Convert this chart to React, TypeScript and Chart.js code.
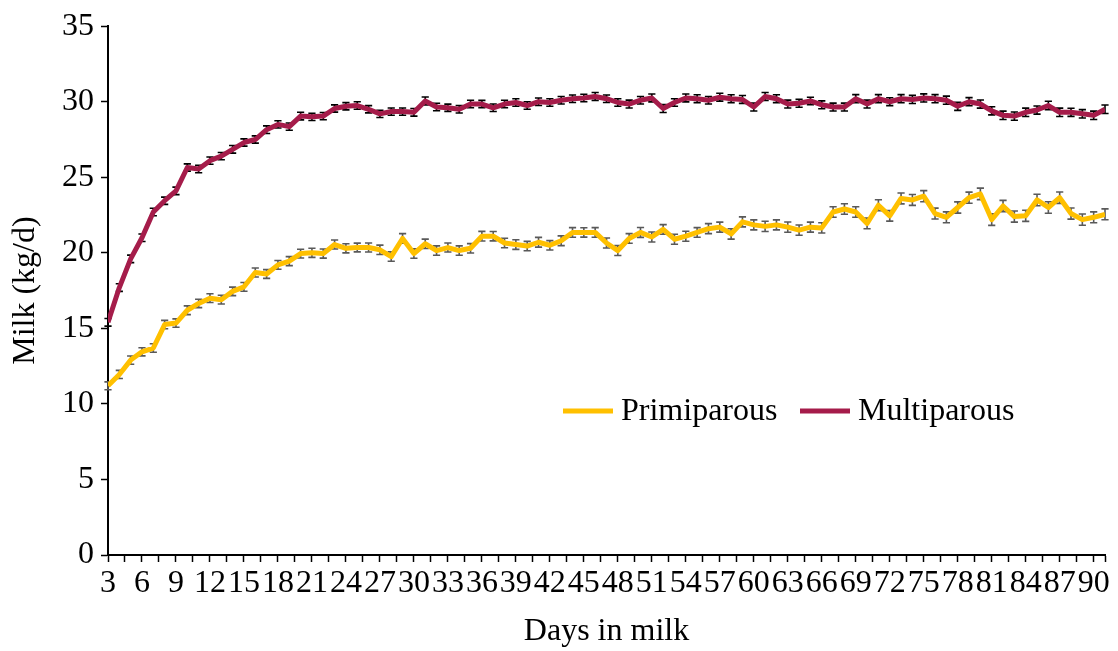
import React, { useEffect, useRef } from 'react';
import { Chart, registerables } from 'chart.js';

Chart.register(...registerables);

const days = [
  3, 4, 5, 6, 7, 8, 9, 10, 11, 12, 13, 14, 15, 16, 17, 18, 19, 20, 21, 22,
  23, 24, 25, 26, 27, 28, 29, 30, 31, 32, 33, 34, 35, 36, 37, 38, 39, 40, 41, 42,
  43, 44, 45, 46, 47, 48, 49, 50, 51, 52, 53, 54, 55, 56, 57, 58, 59, 60, 61, 62,
  63, 64, 65, 66, 67, 68, 69, 70, 71, 72, 73, 74, 75, 76, 77, 78, 79, 80, 81, 82,
  83, 84, 85, 86, 87, 88, 89, 90, 91,
];

const primiparous = [
  11.2, 11.95, 12.9, 13.45, 13.7, 15.25, 15.35, 16.2, 16.65, 17.0, 16.9, 17.45, 17.75, 18.7, 18.6, 19.2, 19.45, 19.95, 20.0, 19.95,
  20.55, 20.3, 20.35, 20.35, 20.2, 19.75, 20.95, 19.95, 20.6, 20.15, 20.35, 20.15, 20.3, 21.1, 21.1, 20.65, 20.55, 20.45, 20.7, 20.5,
  20.8, 21.35, 21.35, 21.35, 20.65, 20.15, 20.95, 21.35, 21.05, 21.55, 20.9, 21.1, 21.35, 21.6, 21.7, 21.25, 22.05, 21.85, 21.75, 21.85,
  21.7, 21.5, 21.7, 21.65, 22.7, 22.9, 22.7, 21.95, 23.15, 22.45, 23.6, 23.5, 23.75, 22.6, 22.35, 23.0, 23.65, 23.9, 22.2, 23.1,
  22.4, 22.45, 23.5, 23.0, 23.65, 22.6, 22.2, 22.35, 22.55,
];

const multiparous = [
  15.4, 17.7, 19.6, 21.0, 22.7, 23.45, 24.1, 25.65, 25.55, 26.1, 26.4, 26.85, 27.3, 27.5, 28.15, 28.5, 28.35, 29.05, 29.0, 29.05,
  29.55, 29.7, 29.75, 29.5, 29.2, 29.35, 29.35, 29.3, 30.05, 29.65, 29.6, 29.5, 29.85, 29.85, 29.6, 29.85, 29.95, 29.75, 30.0, 29.95,
  30.1, 30.2, 30.25, 30.35, 30.2, 29.95, 29.85, 30.1, 30.25, 29.55, 29.95, 30.25, 30.2, 30.1, 30.3, 30.2, 30.15, 29.65, 30.35, 30.2,
  29.85, 29.9, 30.05, 29.8, 29.65, 29.65, 30.2, 29.85, 30.2, 30.0, 30.2, 30.15, 30.25, 30.2, 30.1, 29.7, 30.0, 29.85, 29.4, 29.1,
  29.05, 29.3, 29.45, 29.75, 29.3, 29.3, 29.2, 29.1, 29.5,
];

const primiparousSE = [
  0.26, 0.27, 0.27, 0.27, 0.28, 0.28, 0.28, 0.29, 0.28, 0.29, 0.29, 0.28, 0.29, 0.3, 0.29, 0.29, 0.3, 0.29, 0.3, 0.3,
  0.3, 0.3, 0.29, 0.3, 0.31, 0.31, 0.32, 0.31, 0.31, 0.31, 0.3, 0.31, 0.31, 0.32, 0.31, 0.31, 0.32, 0.31, 0.32, 0.31,
  0.32, 0.32, 0.31, 0.32, 0.33, 0.33, 0.32, 0.33, 0.33, 0.32, 0.33, 0.33, 0.32, 0.33, 0.33, 0.34, 0.33, 0.33, 0.34, 0.33,
  0.34, 0.34, 0.33, 0.34, 0.35, 0.35, 0.35, 0.36, 0.36, 0.35, 0.36, 0.36, 0.37, 0.36, 0.36, 0.37, 0.37, 0.38, 0.38, 0.37,
  0.37, 0.37, 0.38, 0.38, 0.38, 0.37, 0.37, 0.36, 0.36,
];

const multiparousSE = [
  0.25, 0.25, 0.25, 0.25, 0.25, 0.24, 0.25, 0.24, 0.25, 0.24, 0.24, 0.25, 0.24, 0.24, 0.25, 0.24, 0.24, 0.25, 0.24, 0.24,
  0.24, 0.24, 0.25, 0.24, 0.24, 0.24, 0.24, 0.25, 0.26, 0.25, 0.24, 0.25, 0.25, 0.24, 0.25, 0.25, 0.25, 0.25, 0.25, 0.25,
  0.25, 0.25, 0.25, 0.26, 0.25, 0.25, 0.26, 0.25, 0.26, 0.26, 0.25, 0.26, 0.26, 0.25, 0.26, 0.26, 0.26, 0.26, 0.26, 0.26,
  0.26, 0.26, 0.25, 0.26, 0.26, 0.26, 0.27, 0.26, 0.27, 0.26, 0.27, 0.27, 0.27, 0.27, 0.27, 0.27, 0.27, 0.27, 0.27, 0.28,
  0.27, 0.28, 0.27, 0.28, 0.28, 0.27, 0.28, 0.28, 0.28,
];

const seriesNames = ['Primiparous', 'Multiparous'];
const seriesColors = ['#FFC000', '#A51C4A'];
const errorColors = ['#595959', '#000000'];

const FONT_FAMILY = '"Liberation Serif", "Times New Roman", Times, serif';

const errorBarPlugin = {
  id: 'errorBars',
  beforeDatasetsDraw(chart: any) {
    const ctx = chart.ctx;
    const xs = chart.scales.x;
    const ys = chart.scales.y;
    const seLists = [primiparousSE, multiparousSE];
    chart.data.datasets.forEach((ds: any, i: number) => {
      const se = seLists[i];
      ctx.save();
      ctx.strokeStyle = errorColors[i];
      ctx.lineWidth = 1.6;
      ds.data.forEach((pt: any, j: number) => {
        const px = xs.getPixelForValue(pt.x);
        const top = ys.getPixelForValue(pt.y + se[j]);
        const bot = ys.getPixelForValue(pt.y - se[j]);
        ctx.beginPath();
        ctx.moveTo(px, top);
        ctx.lineTo(px, bot);
        ctx.moveTo(px - 3.6, top);
        ctx.lineTo(px + 3.6, top);
        ctx.moveTo(px - 3.6, bot);
        ctx.lineTo(px + 3.6, bot);
        ctx.stroke();
      });
      ctx.restore();
    });
  },
};

const legendPlugin = {
  id: 'innerLegend',
  afterDraw(chart: any) {
    const ctx = chart.ctx;
    const starts = [563, 800];
    const yMid = 411;
    ctx.save();
    ctx.font = `32px ${FONT_FAMILY}`;
    ctx.textBaseline = 'middle';
    ctx.fillStyle = '#000';
    seriesNames.forEach((name, i) => {
      ctx.strokeStyle = seriesColors[i];
      ctx.lineWidth = 5;
      ctx.beginPath();
      ctx.moveTo(starts[i], yMid);
      ctx.lineTo(starts[i] + 50, yMid);
      ctx.stroke();
      ctx.fillText(name, starts[i] + 58, yMid + 1);
    });
    ctx.restore();
  },
};

export default function App() {
  const canvasRef = useRef<HTMLCanvasElement | null>(null);

  useEffect(() => {
    if (!canvasRef.current) return;
    const datasets = [primiparous, multiparous].map((vals, i) => ({
      label: seriesNames[i],
      data: days.map((d, j) => ({ x: d, y: vals[j] })),
      borderColor: seriesColors[i],
      backgroundColor: seriesColors[i],
      borderWidth: 5,
      pointRadius: 0,
      tension: 0,
      borderJoinStyle: 'round' as const,
      borderCapStyle: 'butt' as const,
      fill: false,
    }));

    const chart = new Chart(canvasRef.current, {
      type: 'line',
      data: { datasets },
      options: {
        animation: false,
        responsive: false,
        devicePixelRatio: 1,
        layout: { padding: { top: 23, right: 13, left: 0, bottom: 0 } },
        plugins: {
          legend: { display: false },
          tooltip: { enabled: false },
        },
        scales: {
          x: {
            type: 'linear',
            min: 3,
            max: 91,
            bounds: 'data',
            afterFit: (s: any) => {
              s.height = 96;
            },
            ticks: {
              stepSize: 1.5,
              includeBounds: false,
              autoSkip: false,
              maxRotation: 0,
              minRotation: 0,
              padding: 2,
              color: '#000',
              font: { family: FONT_FAMILY, size: 32 },
              callback: (v: any) => (Number(v) % 3 === 0 ? String(v) : ''),
            },
            grid: {
              drawOnChartArea: false,
              drawTicks: true,
              tickLength: 7,
              tickColor: '#000',
              tickWidth: 1.5,
            },
            border: { color: '#000', width: 2 },
            title: {
              display: true,
              text: 'Days in milk',
              color: '#000',
              font: { family: FONT_FAMILY, size: 32 },
              padding: { top: 0, bottom: 0 },
            },
          },
          y: {
            min: 0,
            max: 35,
            afterFit: (s: any) => {
              s.width = 108;
            },
            ticks: {
              stepSize: 5,
              padding: 7,
              color: '#000',
              font: { family: FONT_FAMILY, size: 32 },
            },
            grid: {
              drawOnChartArea: false,
              drawTicks: true,
              tickLength: 7,
              tickColor: '#000',
              tickWidth: 1.5,
            },
            border: { color: '#000', width: 2 },
            title: {
              display: true,
              text: 'Milk (kg/d)',
              color: '#000',
              font: { family: FONT_FAMILY, size: 32 },
              padding: { top: 6, bottom: 0 },
            },
          },
        },
      },
      plugins: [errorBarPlugin, legendPlugin],
    });

    return () => {
      chart.destroy();
    };
  }, []);

  return (
    <div
      style={{
        position: 'fixed',
        left: 0,
        top: 0,
        width: 1118,
        height: 651,
        background: '#fff',
      }}
    >
      <canvas ref={canvasRef} width={1118} height={651} style={{ width: 1118, height: 651 }} />
    </div>
  );
}
